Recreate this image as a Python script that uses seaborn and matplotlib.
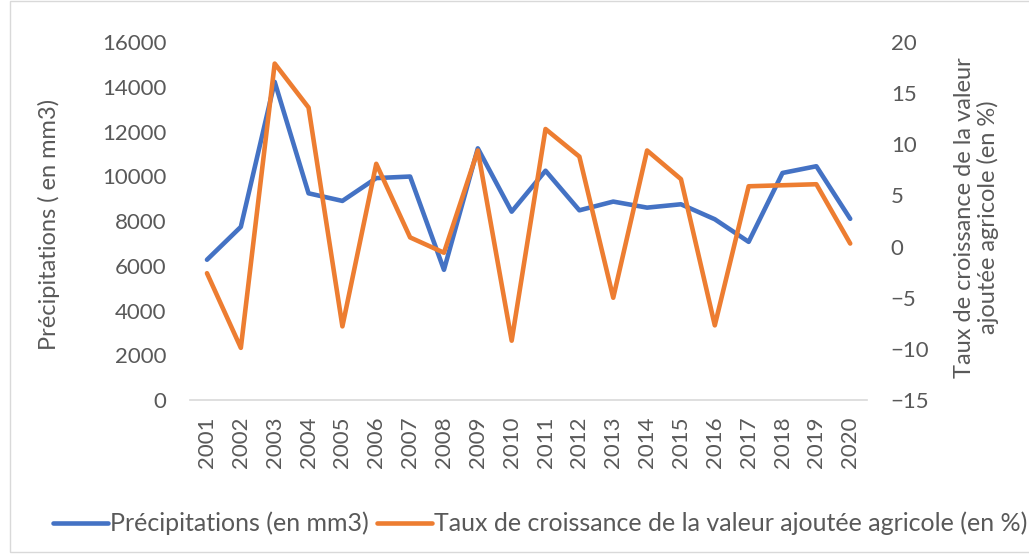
import numpy as np
import pandas as pd
import matplotlib.pyplot as plt
import seaborn as sns
from matplotlib.lines import Line2D
from matplotlib.patches import Rectangle

years = list(range(2001, 2021))
precip = [6270, 7740, 14220, 9240, 8900, 9920, 9990, 5820, 11250, 8420,
          10250, 8480, 8870, 8600, 8750, 8080, 7070, 10150, 10450, 8100]
croissance = [-2.6, -9.9, 17.9, 13.6, -7.8, 8.1, 0.9, -0.6, 9.4, -9.2,
              11.5, 8.8, -5.0, 9.4, 6.6, -7.7, 5.9, 6.0, 6.1, 0.3]

df = pd.DataFrame({"annee": years, "precip": precip, "croissance": croissance})

sns.set_style("white")
plt.rcParams["font.family"] = ["Lato", "DejaVu Sans"]

blue = "#4472C4"
orange = "#ED7D31"
txt = "#595959"

fig = plt.figure(figsize=(10.29, 5.54), dpi=100)
ax = fig.add_axes([0.1847, 0.278, 0.658, 0.646])
ax2 = ax.twinx()

sns.lineplot(data=df, x="annee", y="precip", ax=ax, color=blue, linewidth=3.3,
             solid_joinstyle="round", solid_capstyle="round")
sns.lineplot(data=df, x="annee", y="croissance", ax=ax2, color=orange, linewidth=3.3,
             solid_joinstyle="round", solid_capstyle="round")

ax.set_xlim(2000.5, 2020.5)
ax.set_ylim(0, 16000)
ax.set_yticks(range(0, 16001, 2000))
ax2.set_ylim(-15, 20)
ax2.set_yticks(range(-15, 21, 5))
ax.set_xticks(years)
ax.set_xticklabels([str(y) for y in years], rotation=90)

for a in (ax, ax2):
    for s in a.spines.values():
        s.set_visible(False)
    a.tick_params(axis="y", length=0, labelsize=16, labelcolor=txt, pad=17)
ax.spines["bottom"].set_visible(True)
ax.spines["bottom"].set_color("#D9D9D9")
ax.spines["bottom"].set_linewidth(1.2)
ax.tick_params(axis="x", length=0, labelsize=16, labelcolor=txt, pad=12)

ax.set_xlabel("")
ax.set_ylabel("Précipitations ( en mm3)", fontsize=17, color=txt)
ax.yaxis.set_label_coords(-0.192, 0.49)
ax2.set_ylabel("Taux de croissance de la valeur\najoutée agricole (en %)", fontsize=17,
               color=txt, rotation=90, linespacing=1.1)
ax2.yaxis.set_label_coords(1.128, 0.51)

handles = [Line2D([], [], color=blue, linewidth=3.3),
           Line2D([], [], color=orange, linewidth=3.3)]
fig.legend(handles, ["Précipitations (en mm3)",
                     "Taux de croissance de la valeur ajoutée agricole (en %)"],
           loc="center", bbox_to_anchor=(0.525, 0.055), ncol=2, frameon=False,
           fontsize=18, labelcolor=txt, handlelength=2.2, handletextpad=0.1,
           columnspacing=0.3, borderpad=0)

fig.patches.append(Rectangle((0.0095, 0.004), 1.2, 0.994, transform=fig.transFigure,
                             fill=False, edgecolor="#D9D9D9", linewidth=1))

fig.savefig("out.png", dpi=100)
